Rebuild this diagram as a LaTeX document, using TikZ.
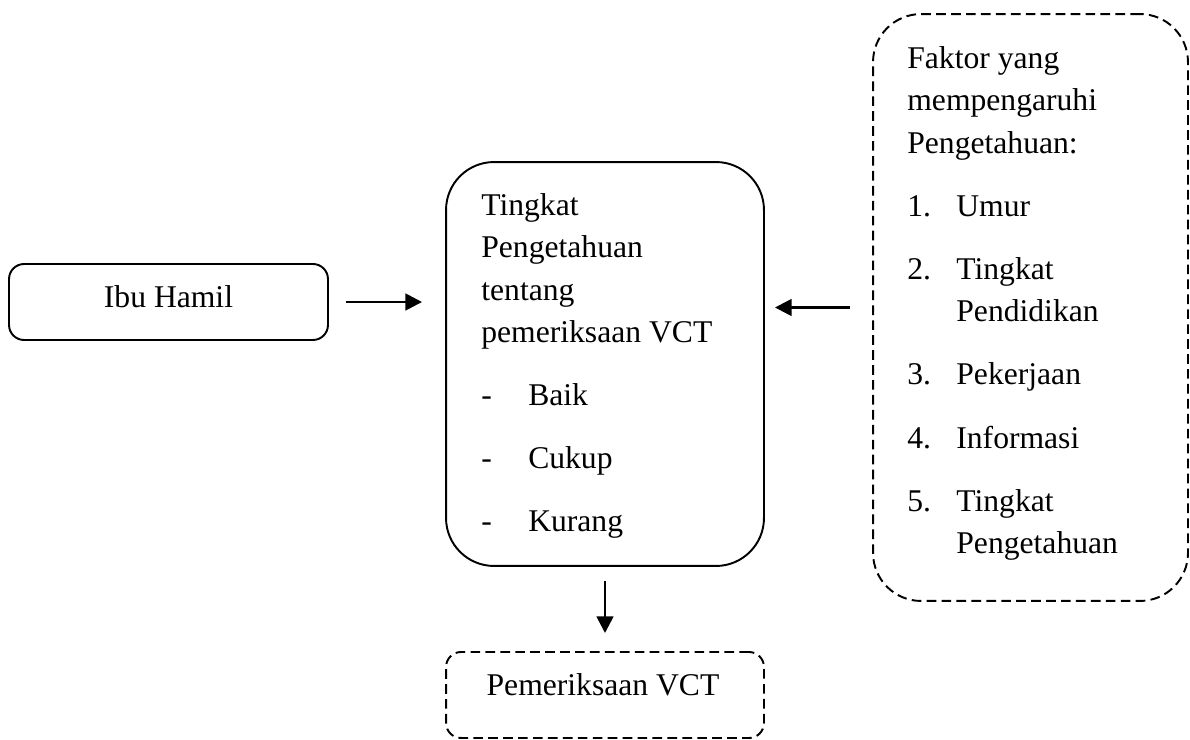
\documentclass[tikz,border=0pt]{standalone}
\usepackage{fontspec}
\setmainfont{Liberation Serif}
\usetikzlibrary{arrows.meta}

\tikzset{
  box/.style={draw, line width=1.1pt, inner sep=0pt, outer sep=0pt},
  dashbox/.style={box, dash pattern=on 5.5pt off 3pt},
  txt/.style={inner sep=0pt, align=left, font=\fontsize{18pt}{24pt}\selectfont},
  arr/.style={line width=1.5pt, -{Triangle[length=9.5pt,width=9.5pt]}}
}

\begin{document}
\begin{tikzpicture}[x=0.02cm,y=-0.02cm]
  \useasboundingbox (0,0) rectangle (1190,740);
  % boxes
  \node[box, rounded corners=0.3cm, minimum width=6.38cm, minimum height=1.52cm] (ibu) at (168.5,302) {};
  \node[box, rounded corners=0.96cm, minimum width=6.36cm, minimum height=8.08cm] (mid) at (605,364) {};
  \node[dashbox, rounded corners=0.96cm, minimum width=6.30cm, minimum height=11.74cm] (fak) at (1030.5,307.5) {};
  \node[dashbox, rounded corners=0.3cm, minimum width=6.36cm, minimum height=1.72cm] (pem) at (605,695) {};

  % texts
  \node[txt, anchor=base] (ibutxt) at (168.5,307) {Ibu Hamil};
  \node[txt, anchor=base] (pemtxt) at (603,695) {Pemeriksaan VCT};
  \node[txt, anchor=north west] (midtxt) at (481,193.4) {Tingkat\\Pengetahuan\\tentang\\pemeriksaan VCT\\[12pt]
    \makebox[26.7pt][l]{-}Baik\\[12pt]
    \makebox[26.7pt][l]{-}Cukup\\[12pt]
    \makebox[26.7pt][l]{-}Kurang};
  \node[txt, anchor=north west] (faktxt) at (907,46.4) {Faktor yang\\mempengaruhi\\Pengetahuan:\\[12pt]
    \makebox[27.9pt][l]{1.}Umur\\[12pt]
    \makebox[27.9pt][l]{2.}Tingkat\\\hspace*{27.9pt}Pendidikan\\[12pt]
    \makebox[27.9pt][l]{3.}Pekerjaan\\[12pt]
    \makebox[27.9pt][l]{4.}Informasi\\[12pt]
    \makebox[27.9pt][l]{5.}Tingkat\\\hspace*{27.9pt}Pengetahuan};

  % arrows
  \draw[arr, shorten <=0.36cm, shorten >=0.48cm] (ibu.east) -- (ibu.east -| mid.west);
  \draw[arr, shorten <=0.46cm, shorten >=0.22cm] (fak.west) -- (fak.west -| mid.east);
  \draw[arr, shorten <=0.3cm, shorten >=0.38cm] (mid.south) -- (pem.north);
\end{tikzpicture}
\end{document}
